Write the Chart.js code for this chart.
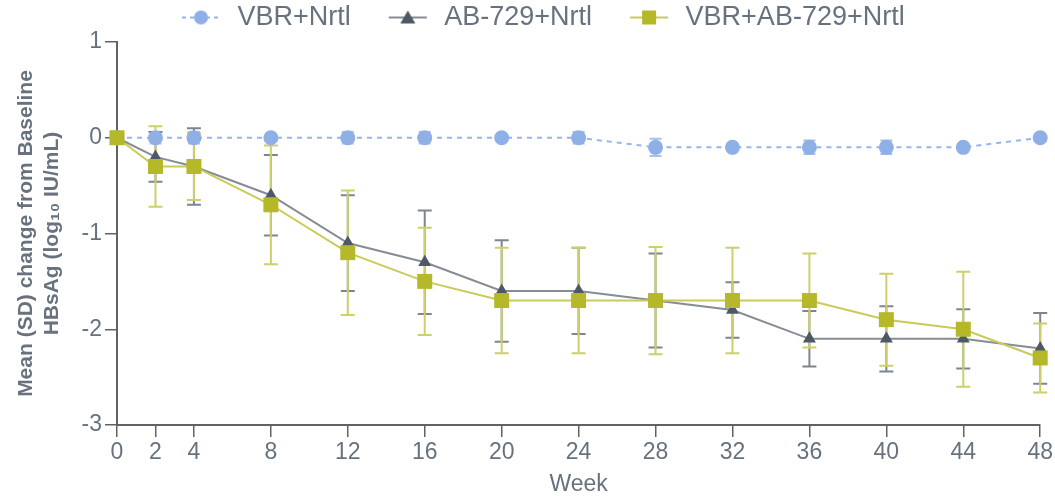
<!DOCTYPE html>
<html>
<head>
<meta charset="utf-8">
<script src="https://cdn.jsdelivr.net/npm/chart.js@4/dist/chart.umd.min.js"></script>
<style>
  html, body { margin: 0; padding: 0; background: #ffffff; }
  #wrap { width: 1055px; height: 496px; }
</style>
</head>
<body>
<div id="wrap"><canvas id="chart" width="1055" height="496"></canvas></div>
<script>
// Study weeks and tick labels
const weeks = [0, 2, 4, 8, 12, 16, 20, 24, 28, 32, 36, 40, 44, 48];
const xTickValues = [0, 2, 4, 8, 12, 16, 20, 24, 28, 32, 36, 40, 44, 48];
const yTickValues = [1, 0, -1, -2, -3];
const seriesNames = ['VBR+Nrtl', 'AB-729+Nrtl', 'VBR+AB-729+Nrtl'];

// Mean change from baseline (log10 IU/mL) and SD per arm
const vbrMean   = [0, 0, 0, 0, 0, 0, 0, 0, -0.1, -0.1, -0.1, -0.1, -0.1, 0];
const vbrSD     = [0, 0.06, 0.06, 0, 0.06, 0.06, 0, 0.06, 0.09, 0, 0.07, 0.07, 0, 0];
const ab729Mean = [0, -0.2, -0.3, -0.6, -1.1, -1.3, -1.6, -1.6, -1.7, -1.8, -2.1, -2.1, -2.1, -2.2];
const ab729SD   = [0, 0.26, 0.40, 0.42, 0.50, 0.54, 0.53, 0.45, 0.49, 0.29, 0.29, 0.34, 0.31, 0.37];
const comboMean = [0, -0.3, -0.3, -0.7, -1.2, -1.5, -1.7, -1.7, -1.7, -1.7, -1.7, -1.9, -2.0, -2.3];
const comboSD   = [0, 0.42, 0.35, 0.62, 0.65, 0.56, 0.55, 0.55, 0.56, 0.55, 0.49, 0.48, 0.60, 0.36];

const textColor = '#67727e';
const axisColor = '#5f6368';
const fontFamily = 'Liberation Sans, Arial, sans-serif';

const style = {
  vbr:   { marker: '#8eb0e6', line: '#97b5e8', bar: '#a9c0ea', shape: 'circle' },
  ab729: { marker: '#4e5966', line: '#858c94', bar: '#7d8690', shape: 'triangle' },
  combo: { marker: '#b5b829', line: '#c8cb58', bar: '#cdd06a', shape: 'rect' }
};

// Small legend glyphs: a short line with the series marker in the middle
function makeIcon(s, dashed) {
  const c = document.createElement('canvas');
  c.width = 76; c.height = 20;
  const g = c.getContext('2d');
  g.strokeStyle = s.line;
  g.lineWidth = 2;
  if (dashed) g.setLineDash([4, 4]);
  g.beginPath(); g.moveTo(34, 10); g.lineTo(72, 10); g.stroke();
  g.setLineDash([]);
  g.fillStyle = s.marker;
  const cx = 53, cy = 10;
  if (s.shape === 'circle') {
    g.beginPath(); g.arc(cx, cy, 7, 0, Math.PI * 2); g.fill();
  } else if (s.shape === 'triangle') {
    g.beginPath(); g.moveTo(cx, cy - 7); g.lineTo(cx + 7.5, cy + 6); g.lineTo(cx - 7.5, cy + 6); g.closePath(); g.fill();
  } else {
    g.fillRect(cx - 7, cy - 7, 14, 14);
  }
  return c;
}
const icons = [makeIcon(style.vbr, true), makeIcon(style.ab729, false), makeIcon(style.combo, false)];

const toPoints = (arr) => arr.map((v, i) => ({ x: weeks[i], y: v }));

// Vertical SD whiskers with caps, drawn under the lines and markers
const errorBars = {
  id: 'errorBars',
  beforeDatasetsDraw(chart) {
    const { ctx, scales: { x, y } } = chart;
    const groups = [
      { mean: vbrMean, sd: vbrSD, color: style.vbr.bar, cap: 6 },
      { mean: ab729Mean, sd: ab729SD, color: style.ab729.bar, cap: 7 },
      { mean: comboMean, sd: comboSD, color: style.combo.bar, cap: 7 }
    ];
    ctx.save();
    ctx.lineWidth = 2;
    groups.forEach(gp => {
      ctx.strokeStyle = gp.color;
      gp.mean.forEach((m, i) => {
        const sd = gp.sd[i];
        if (!sd) return;
        const px = x.getPixelForValue(weeks[i]);
        const top = y.getPixelForValue(m + sd);
        const bot = y.getPixelForValue(m - sd);
        ctx.beginPath();
        ctx.moveTo(px, top); ctx.lineTo(px, bot);
        ctx.moveTo(px - gp.cap, top); ctx.lineTo(px + gp.cap, top);
        ctx.moveTo(px - gp.cap, bot); ctx.lineTo(px + gp.cap, bot);
        ctx.stroke();
      });
    });
    ctx.restore();
  }
};

// Fixed legend band height and horizontal placement
const legendPlacement = {
  id: 'legendPlacement',
  beforeInit(chart) {
    const lg = chart.legend;
    const fit = lg.fit;
    lg.fit = function () { fit.call(this); this.height = 42; };
  },
  afterLayout(chart) {
    const lg = chart.legend;
    const w = lg.right - lg.left;
    lg.left = 144;
    lg.right = 144 + w;
  }
};

new Chart(document.getElementById('chart'), {
  type: 'line',
  data: {
    datasets: [
      {
        label: seriesNames[0],
        data: toPoints(vbrMean),
        borderColor: style.vbr.line,
        borderWidth: 2,
        borderDash: [5, 5],
        pointStyle: 'circle',
        pointRadius: 7.5,
        pointBackgroundColor: style.vbr.marker,
        pointBorderColor: style.vbr.marker,
        pointBorderWidth: 0,
        order: 2,
        clip: false
      },
      {
        label: seriesNames[1],
        data: toPoints(ab729Mean),
        borderColor: style.ab729.line,
        borderWidth: 2,
        pointStyle: 'triangle',
        pointRadius: 7.5,
        pointBackgroundColor: style.ab729.marker,
        pointBorderColor: style.ab729.marker,
        pointBorderWidth: 0,
        order: 1,
        clip: false
      },
      {
        label: seriesNames[2],
        data: toPoints(comboMean),
        borderColor: style.combo.line,
        borderWidth: 2,
        pointStyle: 'rect',
        pointRadius: 10.6,
        pointBackgroundColor: style.combo.marker,
        pointBorderColor: style.combo.marker,
        pointBorderWidth: 0,
        order: 0,
        clip: false
      }
    ]
  },
  options: {
    responsive: false,
    animation: false,
    devicePixelRatio: 1,
    layout: { padding: 0 },
    plugins: {
      tooltip: { enabled: false },
      legend: {
        position: 'top',
        align: 'start',
        labels: {
          usePointStyle: true,
          pointStyleWidth: 76,
          padding: 4,
          color: textColor,
          font: { family: fontFamily, size: 27 },
          sort: (a, b) => a.datasetIndex - b.datasetIndex,
          generateLabels(chart) {
            const items = Chart.defaults.plugins.legend.labels.generateLabels(chart);
            items.forEach(it => { it.pointStyle = icons[it.datasetIndex]; });
            return items;
          }
        }
      }
    },
    scales: {
      x: {
        type: 'linear',
        min: 0,
        max: 48,
        afterBuildTicks(scale) { scale.ticks = xTickValues.map(v => ({ value: v })); },
        afterFit(scale) { scale.height = 71; },
        ticks: {
          autoSkip: false,
          maxRotation: 0,
          padding: 2,
          color: textColor,
          font: { family: fontFamily, size: 23 },
          callback: (v) => String(v)
        },
        grid: { display: true, drawOnChartArea: false, drawTicks: true, tickLength: 12, color: axisColor, lineWidth: 1.5 },
        border: { display: true, color: axisColor, width: 2 },
        title: {
          display: true,
          text: 'Week',
          color: textColor,
          font: { family: fontFamily, size: 23, lineHeight: 1 },
          padding: { top: 0, bottom: 0 }
        }
      },
      y: {
        min: -3,
        max: 1,
        afterBuildTicks(scale) { scale.ticks = yTickValues.map(v => ({ value: v })); },
        afterFit(scale) { scale.width = 117; },
        ticks: {
          padding: 3,
          color: textColor,
          font: { family: fontFamily, size: 23 },
          callback: (v) => String(v)
        },
        grid: { display: true, drawOnChartArea: false, drawTicks: true, tickLength: 12, color: axisColor, lineWidth: 1.5 },
        border: { display: true, color: axisColor, width: 2 },
        title: {
          display: true,
          text: ['Mean (SD) change from Baseline', 'HBsAg (log\u2081\u2080 IU/mL)'],
          color: textColor,
          font: { family: fontFamily, size: 21, weight: 'bold', lineHeight: 1.2 },
          padding: { top: 14, bottom: 0 }
        }
      }
    }
  },
  plugins: [errorBars, legendPlacement]
});
</script>
</body>
</html>
